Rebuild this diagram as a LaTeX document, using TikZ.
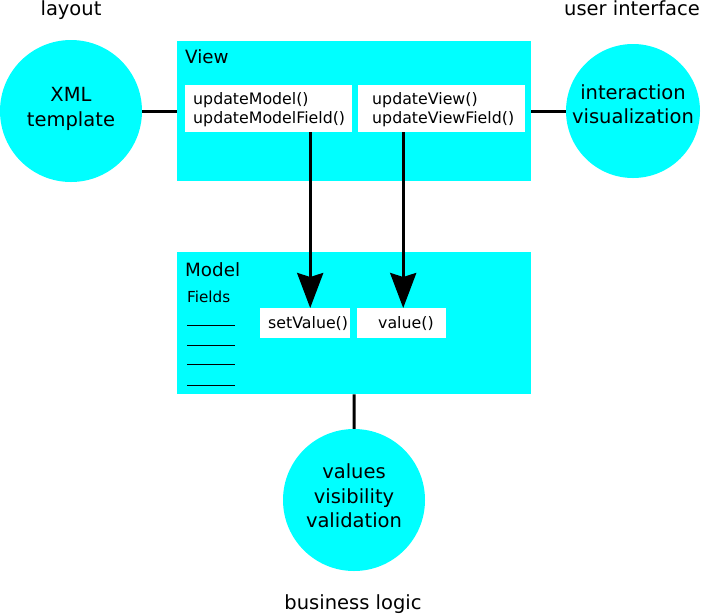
\documentclass[tikz,border=0pt]{standalone}
\usepackage{fontspec}
\setmainfont{DejaVu Sans}
\usetikzlibrary{arrows.meta}
\definecolor{aqua}{RGB}{0,255,255}
\tikzset{
  bubble/.style={circle, fill=aqua, draw=none, minimum size=142pt, inner sep=0pt},
  btext/.style={inner sep=0pt, align=center, font=\fontsize{19.5}{24.5}\selectfont},
  panel/.style={rectangle, fill=aqua, draw=none, inner sep=0pt, anchor=north west},
  mbox/.style={rectangle, fill=white, draw=none, inner sep=0pt, anchor=north west},
  mtext/.style={inner sep=0pt, align=left, anchor=west, font=\fontsize{15.8}{19}\selectfont},
  title/.style={inner sep=0pt, anchor=west, font=\fontsize{18.3}{22}\selectfont},
  caption/.style={inner sep=0pt, anchor=base, font=\fontsize{19.5}{24}\selectfont},
  conn/.style={line width=3pt, draw=black},
  arr/.style={line width=3pt, draw=black, -{Stealth[length=35pt, width=26pt, inset=4pt]}},
  fieldline/.style={line width=1pt, draw=black}
}
\begin{document}
\begin{tikzpicture}[x=1pt, y=-1pt]
\useasboundingbox (0,0) rectangle (701,614);

% captions
\node[caption] (lay) at (71,15) {layout};
\node[caption] (uil) at (632,15) {user interface};
\node[caption] (bll) at (353,609) {business logic};

% circles
\node[bubble] (xml) at (71,111) {};
\node[btext] (xmlt) at (71,109) {XML\\template};
\node[bubble, minimum size=134pt] (ui) at (633,111) {};
\node[btext] (uit) at (633,104) {interaction\\visualization};
\node[bubble] (biz) at (354,500) {};
\node[btext] (bizt) at (354,496) {values\\visibility\\validation};

% View panel
\node[panel, minimum width=354pt, minimum height=140pt] (view) at (177,41) {};
\node[title] (viewt) at (185,57) {View};
\node[mbox, minimum width=167pt, minimum height=47pt] (m1) at (185,85) {};
\node[mtext] (m1t) at ([xshift=8pt,yshift=-1pt]m1.west) {updateModel()\\updateModelField()};
\node[mbox, minimum width=167pt, minimum height=47pt] (m2) at (358,85) {};
\node[mtext] (m2t) at ([xshift=14pt,yshift=-1pt]m2.west) {updateView()\\updateViewField()};

% Model panel
\node[panel, minimum width=354pt, minimum height=142pt] (model) at (177,252) {};
\node[title] (modelt) at (185,270) {Model};
\node[mtext, font=\fontsize{15.2}{18}\selectfont] (fields) at (187,297) {Fields};
\node[mbox, minimum width=90pt, minimum height=30pt] (sv) at (260,308) {};
\node[mtext] (svt) at ([xshift=8pt]sv.west) {setValue()};
\node[mbox, minimum width=89pt, minimum height=30pt] (vv) at (357,308) {};
\node[mtext] (vvt) at ([xshift=21pt]vv.west) {value()};

\coordinate (f1a) at (187,325); \coordinate (f1b) at (235,325);
\coordinate (f2a) at (187,345); \coordinate (f2b) at (235,345);
\coordinate (f3a) at (187,364); \coordinate (f3b) at (235,364);
\coordinate (f4a) at (187,385); \coordinate (f4b) at (235,385);
\draw[fieldline] (f1a) -- (f1b);
\draw[fieldline] (f2a) -- (f2b);
\draw[fieldline] (f3a) -- (f3b);
\draw[fieldline] (f4a) -- (f4b);

% connectors
\draw[conn] (xml.east) -- (view.west |- xml.east);
\draw[conn] (view.east |- ui.west) -- (ui.west);
\draw[conn] (model.south) -- (biz.north);

% arrows
\draw[arr] ([xshift=41.5pt]m1.south) -- ([xshift=5pt]sv.north);
\draw[arr] ([xshift=-38.5pt]m2.south) -- ([xshift=1.5pt]vv.north);
\end{tikzpicture}
\end{document}
